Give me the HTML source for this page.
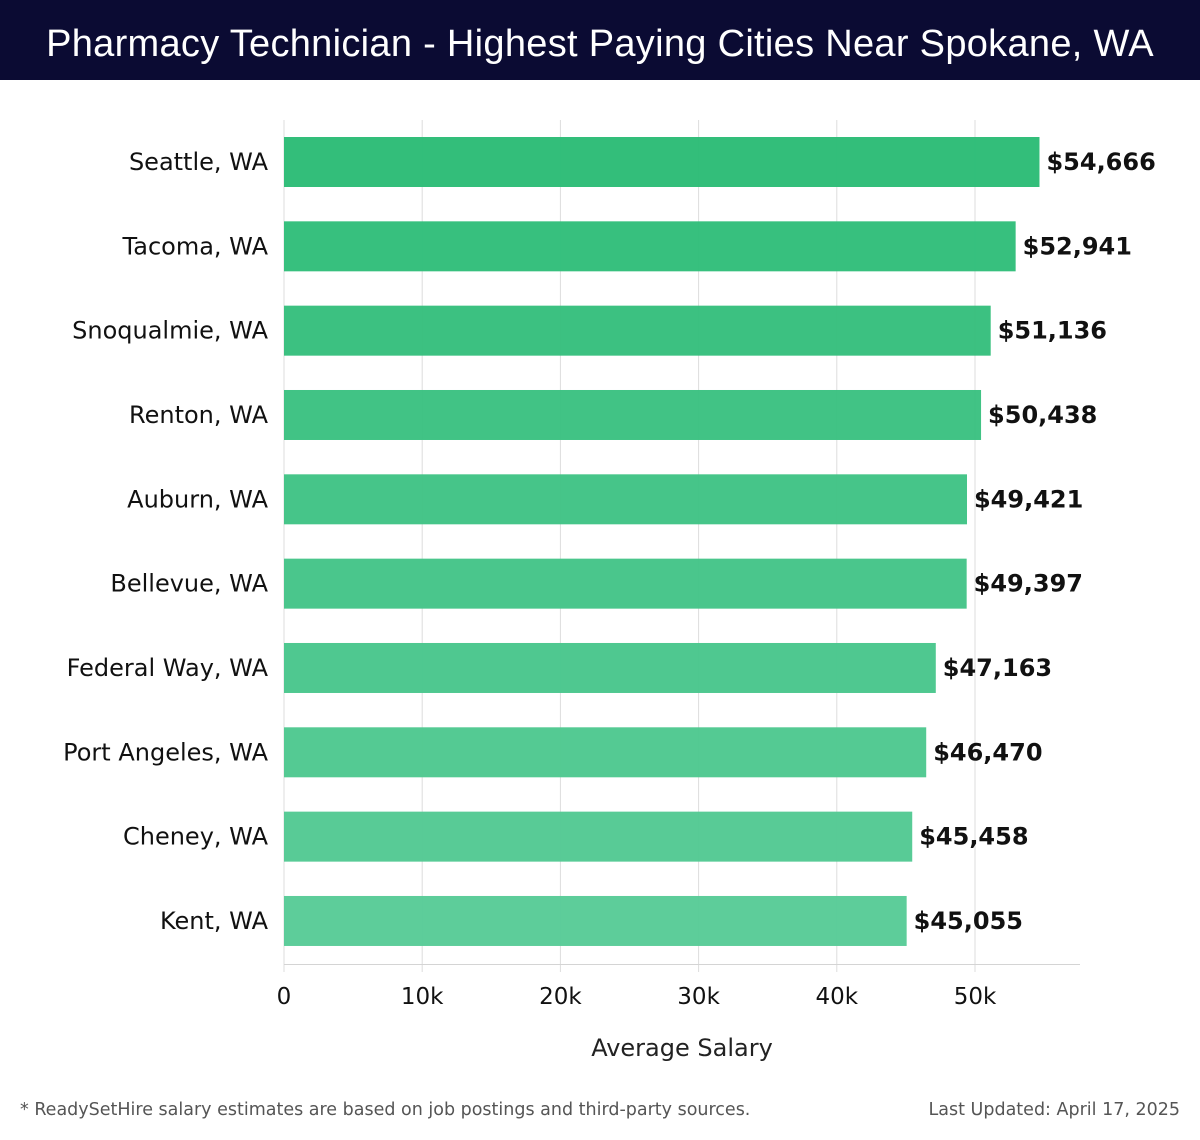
<!DOCTYPE html>
<html><head><meta charset="utf-8"><style>
body{margin:0;width:1200px;height:1140px;background:#fff;font-family:"DejaVu Sans","Liberation Sans",sans-serif;overflow:hidden;position:relative}
#title{position:absolute;left:0;top:0;width:1200px;height:80px;background:#0b0b33;color:#fff;font-size:38px;line-height:88px;text-align:center;font-family:"Liberation Sans",sans-serif;letter-spacing:0.3px}
.foot{position:absolute;top:1100px;font-size:17.5px;color:#555;font-family:"DejaVu Sans",sans-serif}
</style></head><body>
<div id="title">Pharmacy Technician - Highest Paying Cities Near Spokane, WA</div>
<svg id="chart" width="1200" height="1140" style="position:absolute;left:0;top:0;pointer-events:none"></svg>
<div class="foot" style="left:20px">* ReadySetHire salary estimates are based on job postings and third-party sources.</div>
<div class="foot" style="right:20px">Last Updated: April 17, 2025</div>
<script>
const cities=["Seattle, WA","Tacoma, WA","Snoqualmie, WA","Renton, WA","Auburn, WA","Bellevue, WA","Federal Way, WA","Port Angeles, WA","Cheney, WA","Kent, WA"];
const salaries=[54666,52941,51136,50438,49421,49397,47163,46470,45458,45055];
const tickValues=[0,10000,20000,30000,40000,50000];
const tickLabels=["0","10k","20k","30k","40k","50k"];
const NS="http://www.w3.org/2000/svg";
const svg=document.getElementById('chart');
const x0=284,xPer=691/50000,yTop=137,pitch=84.33,bh=50;
const xs=v=>x0+v*xPer;
const ys=i=>yTop+i*pitch;
function mk(t,a){const e=document.createElementNS(NS,t);for(const k in a)e.setAttribute(k,a[k]);svg.appendChild(e);return e;}
tickValues.forEach((v,i)=>{
 const g=mk('line',{x1:xs(v),x2:xs(v),y1:120,y2:972,stroke:'#dddddd','stroke-width':1});
 
 
 const t=mk('text',{x:xs(v),y:1004,'text-anchor':'middle','font-size':23,fill:'#111'});
 t.textContent=tickLabels[i];
 
 
});
const ax=mk('line',{x1:x0,x2:1080,y1:964.5,y2:964.5,stroke:'#d4d4d4','stroke-width':1});


const c1=[44,188,118],c2=[88,203,151];
salaries.forEach((v,i)=>{
 const f=i/(salaries.length-1);
 const col=`rgba(${c1.map((c,k)=>Math.round(c+(c2[k]-c)*f)).join(',')},0.97)`;
 const r=mk('rect',{x:x0,y:ys(i),width:xs(v)-x0,height:bh,fill:col});
 
 
 const l=mk('text',{x:268,y:ys(i)+bh/2+8,'text-anchor':'end','font-size':24,fill:'#111'});
 l.textContent=cities[i];
 
 
 const vl=mk('text',{x:xs(v)+7,y:ys(i)+bh/2+8,'font-size':24,'font-weight':'bold',fill:'#111'});
 vl.textContent='$'+v.toLocaleString('en-US');
 
 
});
const xt=mk('text',{x:682,y:1056,'text-anchor':'middle','font-size':24,fill:'#222'});
xt.textContent='Average Salary';


</script>
</body></html>
